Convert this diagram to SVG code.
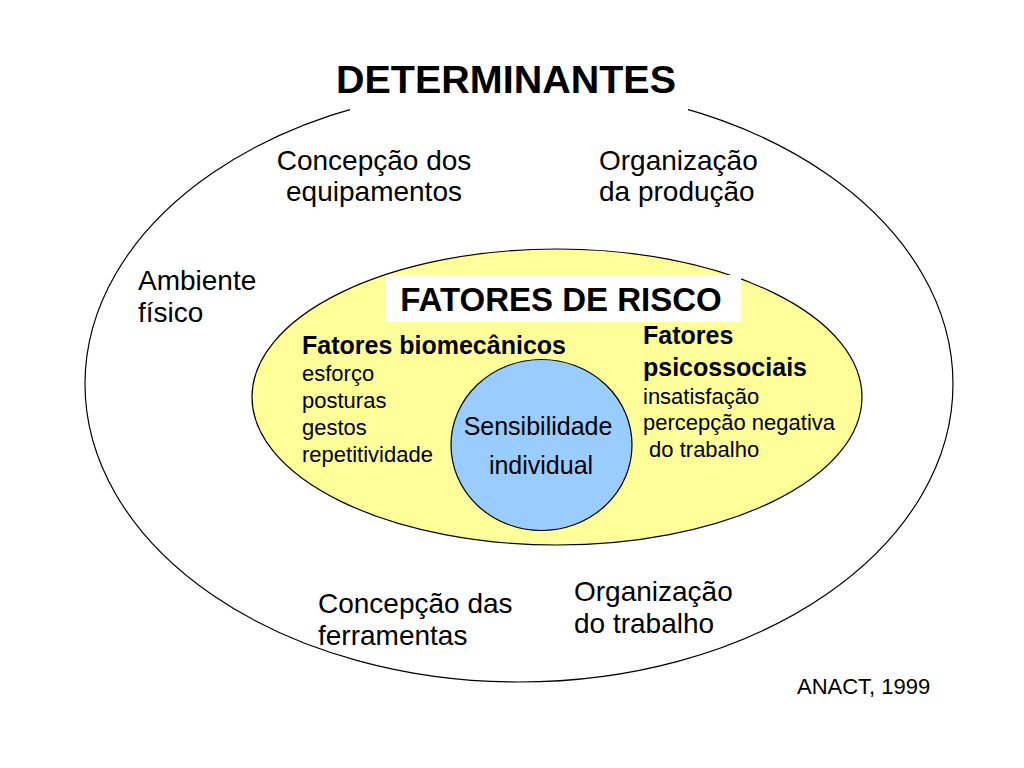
<svg xmlns="http://www.w3.org/2000/svg" width="1024" height="768" viewBox="0 0 1024 768">
<style>
text{font-family:"Liberation Sans",Arial,sans-serif;fill:#000}
.t28{font-size:28px}
.t22{font-size:22px}
.b25{font-size:25px;font-weight:bold}
.shape{stroke:#000;stroke-width:1.2}
</style>
<rect width="1024" height="768" fill="#fff"/>
<g id="determinantes">
<ellipse class="shape" cx="519" cy="384" rx="434" ry="298" fill="#fff"/>
<rect x="350" y="40" width="338" height="74" fill="#fff"/>
<text x="506" y="93" text-anchor="middle" font-size="38" font-weight="bold" textLength="340" lengthAdjust="spacingAndGlyphs">DETERMINANTES</text>
</g>
<g id="concepcao-equipamentos">
<text class="t28" x="374" y="170" text-anchor="middle">Concepção dos</text>
<text class="t28" x="374" y="201" text-anchor="middle">equipamentos</text>
</g>
<g id="organizacao-producao">
<text class="t28" x="599" y="170">Organização</text>
<text class="t28" x="599" y="201">da produção</text>
</g>
<g id="ambiente-fisico">
<text class="t28" x="138" y="290">Ambiente</text>
<text class="t28" x="138" y="322">físico</text>
</g>
<g id="concepcao-ferramentas">
<text class="t28" x="318" y="613">Concepção das</text>
<text class="t28" x="318" y="645">ferramentas</text>
</g>
<g id="organizacao-trabalho">
<text class="t28" x="574" y="601">Organização</text>
<text class="t28" x="574" y="633">do trabalho</text>
</g>
<g id="fatores-de-risco">
<ellipse class="shape" cx="557" cy="397" rx="305" ry="148" fill="#ffff99"/>
<rect x="385" y="275" width="356" height="47" fill="#fff"/>
<text x="561" y="311" text-anchor="middle" font-size="33" font-weight="bold">FATORES DE RISCO</text>
</g>
<g id="fatores-biomecanicos">
<text class="b25" x="302" y="354">Fatores biomecânicos</text>
<text class="t22" x="302" y="381">esforço</text>
<text class="t22" x="302" y="408">posturas</text>
<text class="t22" x="302" y="435">gestos</text>
<text class="t22" x="302" y="462">repetitividade</text>
</g>
<g id="fatores-psicossociais">
<text class="b25" x="643" y="344">Fatores</text>
<text class="b25" x="643" y="376">psicossociais</text>
<text class="t22" x="643" y="404">insatisfação</text>
<text class="t22" x="643" y="430">percepção negativa</text>
<text class="t22" x="643" y="457" xml:space="preserve"> do trabalho</text>
</g>
<g id="sensibilidade-individual">
<ellipse class="shape" cx="541.5" cy="445" rx="90.5" ry="85.5" fill="#99ccff"/>
<text x="538" y="435" text-anchor="middle" font-size="25">Sensibilidade</text>
<text x="541" y="474" text-anchor="middle" font-size="25">individual</text>
</g>
<g id="connectors"></g>
<text x="797" y="694" font-size="22">ANACT, 1999</text>
</svg>
